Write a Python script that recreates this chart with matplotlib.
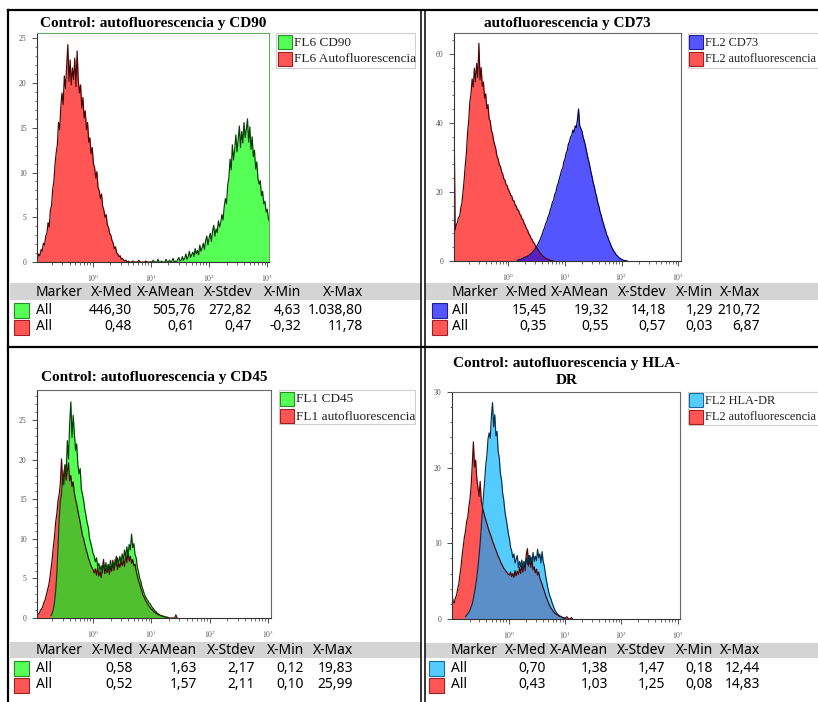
import numpy as np
import matplotlib
matplotlib.use('Agg')
import matplotlib.pyplot as plt
from matplotlib.patches import Rectangle
from matplotlib.ticker import MultipleLocator, FixedLocator, LogLocator, NullFormatter

W, H = 818, 702
plt.rcParams['font.family'] = 'Liberation Serif'
plt.rcParams['mathtext.fontset'] = 'stix'

STEP = 0.02  # channel width, in decades

# ---------------- data: counts per channel, first channel given in log10 ----------------
cd90_start = 1.00
cd90 = [0.0, 0.0, 0.2, 0.0, 0.0, 0.0, 0.3, 0.0, 0.0, 0.1, 0.0, 0.0, 0.0, 0.3, 0.0, 0.0,
        0.2, 0.0, 0.1, 0.4, 0.0, 0.1, 0.0, 0.3, 0.5, 0.1, 0.2, 0.6, 0.2, 0.4, 0.9, 0.3,
        0.6, 1.2, 0.5, 0.8, 1.1, 0.6, 1.5, 0.9, 1.3, 0.8, 1.9, 1.2, 1.6, 2.1, 1.4, 2.4,
        2.9, 1.9, 2.7, 3.2, 2.3, 3.5, 4.1, 2.9, 3.7, 3.3, 4.6, 3.9, 4.4, 5.3, 4.7, 6.2,
        7.1, 6.5, 8.6, 9.4, 11.5, 10.3, 13.1, 11.4, 12.6, 14.2, 12.3, 13.7, 15.2, 12.8,
        14.6, 13.3, 15.6, 13.9, 14.8, 16.0, 13.4, 15.1, 12.6, 14.0, 11.8, 12.5, 10.4, 11.2,
        9.3, 8.7, 9.1, 7.4, 7.9, 6.5, 6.8, 5.6, 5.9, 4.8, 4.5]
cd90_auto_start = -0.95
cd90_auto = [0.4, 0.9, 0.7, 1.4, 1.2, 2.1, 1.9, 2.9, 3.2, 4.4, 3.9, 5.8, 6.3, 8.1, 9.0,
             10.9, 12.2, 13.1, 15.6, 14.8, 17.4, 18.9, 17.6, 20.8, 19.4, 21.9, 24.3, 20.2,
             22.6, 19.8, 21.7, 20.4, 22.8, 19.6, 23.6, 20.3, 18.9, 19.8, 17.2, 18.4, 16.1,
             16.9, 14.8, 15.6, 13.4, 13.9, 12.1, 12.8, 11.0, 10.6, 9.4, 10.1, 8.3, 8.0, 7.1,
             7.6, 6.2, 5.8, 5.0, 5.3, 4.1, 3.9, 3.2, 3.0, 2.4, 2.1, 1.5, 1.7, 1.0, 0.9, 0.6,
             0.7, 0.3, 0.4, 0.2, 0.1, 0.2, 0.0, 0.1, 0.0, 0.0, 0.0, 0.1, 0.0, 0.0, 0.0, 0.0,
             0.2, 0.0, 0.0, 0.0, 0.0, 0.0, 0.1, 0.0, 0.0, 0.0, 0.0, 0.0]

cd73_start = 0.16
cd73 = [0.2, 0.3, 0.5, 0.4, 0.7, 0.8, 1.0, 1.1, 1.3, 1.4, 1.6, 1.9, 2.1, 2.4, 2.9, 3.2,
        3.7, 4.2, 4.8, 5.5, 6.1, 7.0, 7.8, 8.9, 9.6, 10.8, 11.5, 12.7, 13.4, 14.8, 15.6,
        17.1, 17.6, 19.3, 19.9, 21.6, 22.4, 23.8, 24.9, 26.3, 26.8, 28.7, 29.5, 31.2, 31.9,
        33.8, 34.6, 35.9, 36.4, 37.9, 37.2, 39.1, 38.6, 40.8, 44.0, 39.2, 38.4, 37.6, 35.9,
        34.8, 33.5, 31.9, 30.2, 28.9, 27.4, 25.7, 24.3, 22.6, 21.4, 19.7, 18.6, 16.9, 15.8,
        14.2, 13.3, 11.8, 10.9, 9.6, 8.7, 7.5, 6.8, 5.8, 5.1, 4.2, 3.6, 2.9, 2.5, 1.9, 1.6,
        1.2, 0.9, 0.7, 0.5, 0.3, 0.2, 0.1, 0.1, 0.0]
cd73_auto_start = -0.96
cd73_auto = [45.0, 9.0, 10.4, 11.2, 12.6, 12.9, 15.4, 16.8, 20.1, 23.6, 27.9, 31.5, 37.2,
             40.6, 46.1, 48.3, 52.7, 50.4, 55.8, 51.9, 57.2, 53.1, 63.0, 52.4, 56.0, 50.6,
             51.8, 47.2, 48.4, 44.1, 45.3, 41.2, 40.6, 37.8, 36.9, 34.8, 33.6, 32.4, 30.2,
             29.6, 27.8, 27.4, 25.9, 25.2, 23.8, 23.4, 22.1, 21.8, 20.6, 20.1, 19.0, 18.8,
             17.6, 17.4, 16.2, 15.9, 14.8, 14.7, 13.6, 13.3, 12.2, 11.9, 10.8, 10.3, 9.4,
             8.9, 7.9, 7.5, 6.6, 6.2, 5.4, 5.1, 4.3, 3.9, 3.3, 2.9, 2.3, 2.0, 1.6, 1.3, 1.0,
             0.8, 0.6, 0.5, 0.3, 0.2, 0.1, 0.1, 0.0]

cd45_start = -0.72
cd45 = [0.3, 0.6, 1.1, 2.0, 3.4, 5.6, 8.9, 12.4, 14.8, 15.6, 17.9, 16.8, 19.4, 18.2, 22.4,
        20.1, 24.6, 27.3, 22.8, 25.6, 23.4, 21.2, 22.0, 19.4, 18.2, 18.9, 16.3, 15.6, 14.8,
        13.7, 12.9, 12.0, 11.4, 10.1, 9.5, 8.9, 8.2, 7.8, 7.1, 7.6, 6.5, 6.9, 6.0, 6.6, 5.7,
        6.8, 6.2, 7.0, 5.9, 6.8, 6.1, 7.3, 6.2, 6.9, 6.4, 7.4, 6.6, 7.6, 6.9, 7.8, 7.0, 8.1,
        7.3, 8.6, 7.6, 9.0, 7.9, 9.3, 8.6, 10.6, 8.9, 9.4, 8.0, 7.6, 6.4, 5.8, 5.0, 4.6,
        3.9, 3.5, 3.0, 2.7, 2.4, 2.2, 1.9, 1.8, 1.5, 1.3, 1.1, 0.9, 0.8, 0.6, 0.5, 0.4, 0.3,
        0.3, 0.2, 0.2, 0.1, 0.1, 0.0]
cd45_auto_start = -0.96
cd45_auto = [0.3, 0.5, 0.6, 1.0, 1.1, 1.5, 2.0, 2.3, 2.9, 3.5, 4.1, 5.0, 6.2, 7.4, 9.0,
             10.3, 12.1, 13.2, 14.8, 15.6, 17.0, 20.1, 16.8, 18.4, 19.2, 17.4, 18.6, 19.6,
             17.3, 18.0, 16.6, 17.2, 15.8, 15.0, 14.4, 13.6, 12.8, 12.1, 11.2, 10.4, 10.0,
             9.3, 8.7, 8.2, 7.6, 7.2, 6.7, 6.4, 6.1, 5.7, 6.2, 5.4, 6.4, 5.3, 5.9, 5.1, 6.2,
             7.4, 5.6, 6.3, 5.7, 6.6, 5.5, 6.5, 5.9, 7.3, 6.0, 6.8, 7.8, 6.1, 6.9, 6.4, 7.2,
             6.6, 7.4, 6.5, 8.0, 7.0, 8.4, 7.2, 7.8, 6.9, 7.4, 6.6, 6.8, 5.9, 5.3, 4.7, 4.3,
             3.7, 3.3, 2.8, 2.6, 2.2, 2.0, 1.7, 1.5, 1.3, 1.1, 1.0, 0.8, 0.7, 0.6, 0.5, 0.4,
             0.4, 0.3, 0.3, 0.2, 0.2, 0.1, 0.1, 0.1, 0.0, 0.0, 0.0, 0.0, 0.0, 0.0, 0.4, 0.0]

hla_start = -0.77
hla = [0.3, 0.5, 0.7, 0.9, 1.2, 1.6, 2.0, 2.7, 3.5, 4.4, 5.4, 6.8, 8.2, 10.0, 12.1, 14.3,
       16.4, 18.2, 20.4, 21.6, 23.8, 24.6, 23.9, 26.8, 28.6, 25.4, 27.0, 24.2, 24.8, 22.1,
       21.3, 19.2, 18.4, 16.6, 15.7, 14.2, 13.3, 12.4, 11.3, 10.6, 9.5, 9.0, 8.1, 8.6, 7.4,
       7.9, 8.4, 6.8, 7.6, 6.9, 7.8, 6.6, 7.5, 7.0, 8.1, 7.2, 8.4, 7.3, 8.2, 7.5, 8.8, 7.6,
       8.3, 7.7, 9.2, 8.1, 8.6, 7.4, 8.9, 7.6, 7.0, 5.9, 5.0, 4.2, 3.5, 3.0, 2.6, 2.1, 1.7,
       1.3, 1.0, 0.8, 0.6, 0.5, 0.4, 0.3, 0.2, 0.1, 0.1, 0.0]
hla_auto_start = -1.01
hla_auto = [3.2, 2.3, 2.1, 2.8, 3.1, 3.9, 4.6, 5.8, 6.9, 8.4, 9.6, 10.8, 11.6, 12.9, 13.4,
            14.8, 15.9, 17.6, 20.4, 23.4, 20.1, 21.0, 18.6, 17.4, 16.2, 18.2, 15.6, 14.8,
            14.2, 13.6, 13.1, 12.6, 12.1, 11.6, 11.2, 10.8, 10.3, 9.9, 9.5, 9.1, 8.7, 8.3,
            8.0, 7.6, 7.3, 7.0, 6.7, 6.5, 6.3, 6.1, 5.9, 5.8, 6.2, 5.6, 6.0, 5.5, 6.4, 5.7,
            6.3, 5.9, 6.8, 6.0, 7.1, 6.2, 7.6, 6.4, 8.6, 9.3, 7.0, 8.4, 6.8, 7.9, 6.5, 6.9,
            6.1, 6.6, 5.8, 6.2, 5.4, 5.0, 4.6, 4.1, 3.7, 3.2, 2.8, 2.4, 2.0, 1.7, 1.4, 1.2,
            1.0, 0.8, 0.7, 0.6, 0.5, 0.4, 0.3, 0.3, 0.2, 0.2, 0.1, 0.2, 0.3, 0.1, 0.0, 0.0,
            0.2, 0.0]

table_header = ['Marker', 'X-Med', 'X-AMean', 'X-Stdev', 'X-Min', 'X-Max']
cd90_stats = ['446,30', '505,76', '272,82', '4,63', '1.038,80']
cd90_auto_stats = ['0,48', '0,61', '0,47', '-0,32', '11,78']
cd73_stats = ['15,45', '19,32', '14,18', '1,29', '210,72']
cd73_auto_stats = ['0,35', '0,55', '0,57', '0,03', '6,87']
cd45_stats = ['0,58', '1,63', '2,17', '0,12', '19,83']
cd45_auto_stats = ['0,52', '1,57', '2,11', '0,10', '25,99']
hla_stats = ['0,70', '1,38', '1,47', '0,18', '12,44']
hla_auto_stats = ['0,43', '1,03', '1,25', '0,08', '14,83']

# ---------------- colours ----------------
RED, RED_EDGE = '#ff5555', '#4a0505'
GREEN, GREEN_EDGE = '#55ff55', '#053f05'
BLUE, BLUE_EDGE = '#5555ff', '#05054a'
SKY, SKY_EDGE = '#55ccff', '#05304a'

fig = plt.figure(figsize=(W / 100, H / 100), dpi=100)


def to_fig(x0, y0, x1, y1):
    return [x0 / W, 1 - y1 / H, (x1 - x0) / W, (y1 - y0) / H]


def chan(start, n):
    return 10 ** (start + STEP * np.arange(n))


def overlap(s1, v1, s2, v2):
    k = int(round((s2 - s1) / STEP))
    j0, j1 = max(0, -k), min(len(v2), len(v1) - k)
    vals = [min(v1[j + k], v2[j]) for j in range(j0, j1)]
    return s2 + STEP * j0, vals


def histo(rect, auto_s, auto, mk_s, mk, c_mk, e_mk, c_both, xlo, xhi, ymax, major, minor,
          frame='#666666'):
    ax = fig.add_axes(to_fig(*rect))
    ax.set_xscale('log')
    xa, xm = chan(auto_s, len(auto)), chan(mk_s, len(mk))
    ax.fill_between(xa, auto, color=RED, lw=0)
    ax.fill_between(xm, mk, color=c_mk, lw=0)
    s, ov = overlap(auto_s, auto, mk_s, mk)
    if ov:
        ax.fill_between(chan(s, len(ov)), ov, color=c_both, lw=0)
    ax.plot(xa, auto, color=RED_EDGE, lw=0.85)
    ax.plot(xm, mk, color=e_mk, lw=0.85)
    ax.set_xlim(10 ** xlo, 10 ** xhi)
    ax.set_ylim(0, ymax)
    ax.yaxis.set_major_locator(MultipleLocator(major))
    ax.yaxis.set_minor_locator(MultipleLocator(minor))
    ax.xaxis.set_major_locator(FixedLocator([1, 10, 100, 1000]))
    ax.xaxis.set_minor_locator(LogLocator(base=10, subs=np.arange(2, 10), numticks=10))
    ax.xaxis.set_minor_formatter(NullFormatter())
    ax.set_xticklabels(['$10^{0}$', '$10^{1}$', '$10^{2}$', '$10^{3}$'])
    ax.tick_params(which='major', length=3.5, width=0.6, labelsize=5.5, colors='#333333',
                   labelcolor='#555555', pad=4)
    ax.tick_params(which='minor', length=1.8, width=0.5, colors='#333333')
    for sp in ['left', 'bottom']:
        ax.spines[sp].set_color('#333333')
        ax.spines[sp].set_linewidth(0.8)
    for sp in ['top', 'right']:
        ax.spines[sp].set_color(frame)
        ax.spines[sp].set_linewidth(0.8)
    return ax


histo((37, 33, 269, 262), cd90_auto_start, cd90_auto, cd90_start, cd90, GREEN, GREEN_EDGE,
      '#50c030', -0.96, 3.03, 25.6, 5, 1, frame='#6aa86a')
histo((454, 33, 681, 261), cd73_auto_start, cd73_auto, cd73_start, cd73, BLUE, BLUE_EDGE,
      '#5a1fc0', -0.96, 3.05, 66, 20, 4)
histo((37, 390, 271, 618), cd45_auto_start, cd45_auto, cd45_start, cd45, GREEN, GREEN_EDGE,
      '#50c030', -0.96, 3.05, 28.8, 5, 1)
histo((452, 392, 680, 619), hla_auto_start, hla_auto, hla_start, hla, SKY, SKY_EDGE,
      '#5b8fc9', -1.01, 3.04, 30, 10, 2)

# ---------------- overlay in pixel coordinates ----------------
ov = fig.add_axes([0, 0, 1, 1])
ov.set_xlim(0, W)
ov.set_ylim(H, 0)
ov.axis('off')

# table bands
for x0, x1, y0, y1 in [(10, 421, 283, 300), (425, 818, 283, 300),
                       (10, 421, 642, 658), (425, 818, 643, 658)]:
    ov.add_patch(Rectangle((x0, y0), x1 - x0, y1 - y0, facecolor='#d4d4d4', edgecolor='none'))

# panel frame lines
ov.plot([8, 818], [10, 10], color='black', lw=1.6)
ov.plot([8, 8], [10, 702], color='black', lw=1.6)
ov.plot([421, 421], [10, 702], color='black', lw=1.1)
ov.plot([424.5, 424.5], [10, 702], color='black', lw=1.1)
ov.plot([8, 818], [347, 347], color='black', lw=1.6)

# titles
ov.text(153, 23, 'Control: autofluorescencia y CD90', ha='center', va='center',
        fontsize=11, fontweight='bold')
ov.text(567, 23, 'autofluorescencia y CD73', ha='center', va='center',
        fontsize=11, fontweight='bold')
ov.text(154, 378, 'Control: autofluorescencia y CD45', ha='center', va='center',
        fontsize=11, fontweight='bold')
ov.text(567, 363, 'Control: autofluorescencia y HLA-', ha='center', va='center',
        fontsize=11, fontweight='bold')
ov.text(567, 380, 'DR', ha='center', va='center', fontsize=11, fontweight='bold')


def legend(x0, y0, x1, y1, sq_x, text_x, rows, labels, colors, edgecols, size=9.5):
    ov.add_patch(Rectangle((x0, y0), x1 - x0, y1 - y0, facecolor='white',
                           edgecolor='#d0d0d0', lw=0.8))
    for y, lab, c, e in zip(rows, labels, colors, edgecols):
        ov.add_patch(Rectangle((sq_x, y - 7), 14, 14, facecolor=c, edgecolor=e, lw=0.8))
        ov.text(text_x, y + 0.5, lab, ha='left', va='center', fontsize=size, color='#222222')


legend(276, 33, 415, 68, 278, 294, [42, 59], ['FL6 CD90', 'FL6 Autofluorescencia'],
       [GREEN, RED], ['#2a8a2a', '#a02020'])
legend(688, 33, 830, 68, 689, 705, [42, 59], ['FL2 CD73', 'FL2 autofluorescencia'],
       [BLUE, RED], ['#202090', '#a02020'], size=8.9)
legend(279, 390, 415, 424, 280, 296, [399, 416], ['FL1 CD45', 'FL1 autofluorescencia'],
       [GREEN, RED], ['#2a8a2a', '#a02020'])
legend(688, 392, 830, 425, 689, 705, [400, 417], ['FL2 HLA-DR', 'FL2 autofluorescencia'],
       [SKY, RED], ['#1a6a9a', '#a02020'], size=8.9)


def table(sq_x, name_x, cols, y_head, y_rows, stats, colors, edgecols):
    kw = dict(family='Noto Sans', fontsize=10, color='#000000', va='center')
    ov.text(name_x, y_head, table_header[0], ha='left', **kw)
    for cx, h in zip(cols, table_header[1:]):
        ov.text(cx, y_head, h, ha='right', **kw)
    for y, row, c, e in zip(y_rows, stats, colors, edgecols):
        ov.add_patch(Rectangle((sq_x, y - 7.5), 15, 15, facecolor=c, edgecolor=e, lw=0.8))
        ov.text(name_x, y, 'All', ha='left', **kw)
        for cx, v in zip(cols, row):
            ov.text(cx, y, v, ha='right', **kw)


table(14, 36, [132, 195, 252, 301, 363], 292, [310, 327], [cd90_stats, cd90_auto_stats],
      [GREEN, RED], ['#2a8a2a', '#a02020'])
table(432, 452, [547, 609, 666, 713, 760], 292, [310, 327], [cd73_stats, cd73_auto_stats],
      [BLUE, RED], ['#202090', '#a02020'])
table(14, 36, [133, 197, 255, 304, 353], 651, [668, 685], [cd45_stats, cd45_auto_stats],
      [GREEN, RED], ['#2a8a2a', '#a02020'])
table(429, 451, [546, 608, 665, 713, 760], 651, [668, 685], [hla_stats, hla_auto_stats],
      [SKY, RED], ['#1a6a9a', '#a02020'])

fig.savefig('out.png', dpi=100, facecolor='white')
